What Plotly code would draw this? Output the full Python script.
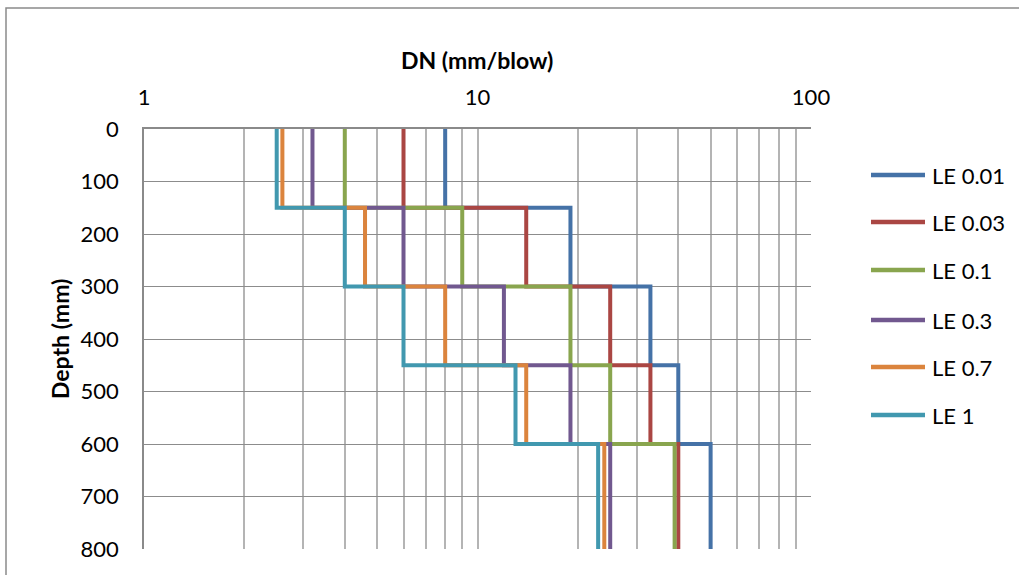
import plotly.graph_objects as go

# Layer boundaries (mm) and DN values per layer for each limit-error setting
depth_breaks = [0, 150, 300, 450, 600, 800]
series_names = ["LE 0.01", "LE 0.03", "LE 0.1", "LE 0.3", "LE 0.7", "LE 1"]
dn_le001 = [8.0, 19.0, 33.0, 40.0, 50.0]
dn_le003 = [6.0, 14.0, 25.0, 33.0, 40.0]
dn_le01 = [4.0, 9.0, 19.0, 25.0, 39.0]
dn_le03 = [3.2, 6.0, 12.0, 19.0, 25.0]
dn_le07 = [2.6, 4.6, 8.0, 14.0, 24.0]
dn_le1 = [2.5, 4.0, 6.0, 13.0, 23.0]
series_values = [dn_le001, dn_le003, dn_le01, dn_le03, dn_le07, dn_le1]
colors = ["#4572A7", "#AA4643", "#89A54E", "#71588F", "#DB843D", "#4198AF"]

x_tickvals = [1, 2, 3, 4, 5, 6, 7, 8, 9, 10, 20, 30, 40, 50, 60, 70, 80, 90, 100]
x_ticktext = [str(v) if v in (1, 10, 100) else "" for v in x_tickvals]
y_tickvals = [0, 100, 200, 300, 400, 500, 600, 700, 800]

FONT = "Lato"
W, H = 1019, 575
ML, MR, MT, MB = 144, 208, 129, 26
PW, PH = W - ML - MR, H - MT - MB


def px_to_paper(px, py):
    return (px - ML) / PW, (H - MB - py) / PH


fig = go.Figure()
for name, vals, col in zip(series_names, series_values, colors):
    # step profile: each DN value holds across its layer, last value extends to the bottom
    fig.add_trace(go.Scatter(
        x=vals + [vals[-1]], y=depth_breaks, mode="lines", name=name,
        line=dict(color=col, width=4, shape="vh"), showlegend=False,
    ))

shapes = []
annotations = []
# outer chart frame
x0, y0 = px_to_paper(6, 8)
x1, y1 = px_to_paper(1030, 590)
shapes.append(dict(type="rect", xref="paper", yref="paper", x0=x0, y0=y1, x1=x1, y1=y0,
                   line=dict(color="#8a8a8a", width=1.5), fillcolor="rgba(0,0,0,0)", layer="below"))

# legend entries
legend_y = [175, 222, 270, 320, 367, 415]
for name, col, ly in zip(series_names, colors, legend_y):
    lx0, lyp = px_to_paper(871, ly)
    lx1, _ = px_to_paper(925, ly)
    shapes.append(dict(type="line", xref="paper", yref="paper", x0=lx0, x1=lx1, y0=lyp, y1=lyp,
                       line=dict(color=col, width=4.5)))
    tx, _ = px_to_paper(930, ly)
    annotations.append(dict(xref="paper", yref="paper", x=tx, y=lyp, text=name, showarrow=False,
                            xanchor="left", yanchor="middle",
                            font=dict(family=FONT, size=22, color="#000000")))

# axis titles
tx, ty = px_to_paper(477, 60)
annotations.append(dict(xref="paper", yref="paper", x=tx, y=ty, text="<b>DN (mm/blow)</b>",
                        showarrow=False, xanchor="center", yanchor="middle",
                        font=dict(family=FONT, size=23, color="#000000")))
tx, ty = px_to_paper(60, 339)
annotations.append(dict(xref="paper", yref="paper", x=tx, y=ty, text="<b>Depth (mm)</b>",
                        showarrow=False, xanchor="center", yanchor="middle", textangle=-90,
                        font=dict(family=FONT, size=23, color="#000000")))

fig.update_layout(
    width=W, height=H,
    margin=dict(l=ML, r=MR, t=MT, b=MB),
    paper_bgcolor="white", plot_bgcolor="white",
    shapes=shapes, annotations=annotations,
    xaxis=dict(
        type="log", range=[0, 2], side="top",
        tickvals=x_tickvals, ticktext=x_ticktext,
        ticks="outside", ticklen=13, tickcolor="rgba(0,0,0,0)",
        tickfont=dict(family=FONT, size=22, color="#000000"),
        showgrid=True, gridcolor="#b4b4b4", gridwidth=1.5,
        showline=True, linecolor="#8a8a8a", linewidth=1.5,
        zeroline=False,
    ),
    yaxis=dict(
        range=[800, 0], tickvals=y_tickvals,
        ticks="outside", ticklen=19, tickcolor="rgba(0,0,0,0)",
        tickfont=dict(family=FONT, size=22, color="#000000"),
        showgrid=True, gridcolor="#8c8c8c", gridwidth=1.3,
        showline=True, linecolor="#8a8a8a", linewidth=1.5,
        zeroline=False,
    ),
)

fig.write_html("out.html")
